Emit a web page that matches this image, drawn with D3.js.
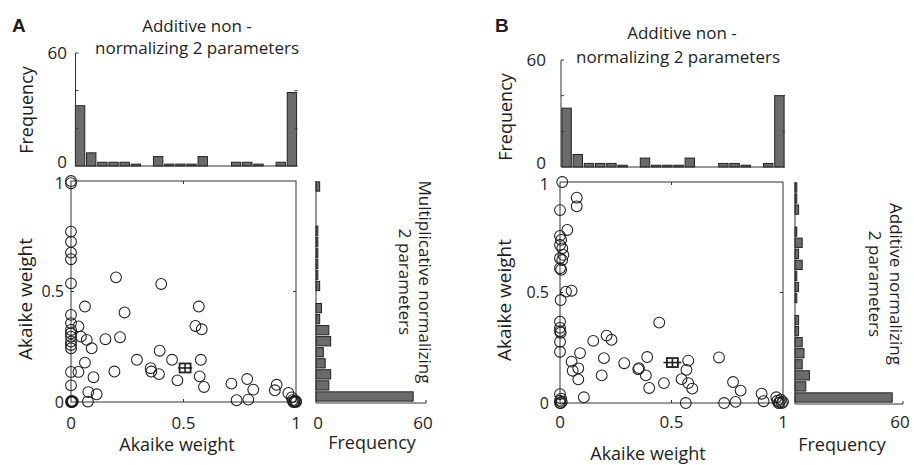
<!DOCTYPE html>
<html>
<head>
<meta charset="utf-8">
<script src="https://cdn.jsdelivr.net/npm/d3@7"></script>
<style>
body{margin:0;background:#fff;}
text{font-family:"Open Sans",sans-serif;fill:#1e1e1e;}
</style>
</head>
<body>
<svg id="chart" width="914" height="465"></svg>
<script>
// histogram bin starts (width 0.05)
var binStart = [0,0.05,0.1,0.15,0.2,0.25,0.3,0.35,0.4,0.45,0.5,0.55,0.6,0.65,0.7,0.75,0.8,0.85,0.9,0.95];

// panel A
var aTopCounts   = [32,7,2,2,2,1,0,5,1,1,1,5,0,0,2,2,1,0,2,39];
var aRightCounts = [53,7,8,5,4,8,7,2,3,0,2,1,1,1,1,1,0,0,0,2];
var aX = [0,0,0,0,0,0,0,0,0,0,0,0,0,0,0,0,0,0,0.004,0.008,0.002,0.006,
	0.033,0.062,0.044,0.07,0.092,0.033,0.062,0.1,0.077,0.114,0.075,
	0.153,0.2,0.218,0.238,0.193,0.293,0.354,0.357,0.391,0.394,0.401,0.449,0.473,
	0.568,0.553,0.581,0.577,0.572,0.591,0.713,0.783,0.81,0.736,0.788,
	0.914,0.906,0.966,0.981,0.988,0.995,1,0.985,0.992,1];
var aY = [1,0.99,0.771,0.725,0.676,0.646,0.537,0.394,0.357,0.326,0.311,0.296,0.273,0.258,0.243,0.136,0.075,0,0,0.003,0.005,0.001,
	0.342,0.432,0.296,0.281,0.243,0.136,0.178,0.112,0.045,0.035,0.002,
	0.284,0.564,0.293,0.405,0.138,0.191,0.153,0.138,0.126,0.232,0.534,0.191,0.098,
	0.432,0.344,0.329,0.191,0.116,0.068,0.083,0.104,0.056,0.008,0.011,
	0.078,0.053,0.041,0.021,0,0.005,0,0.008,0.002,0.004];
var aMean = [0.507, 0.154];
var aErr  = [0.032, 0.02];

// panel B
var bTopCounts   = [33,7,2,2,2,1,0,5,1,1,1,5,0,0,2,2,1,0,2,40];
var bRightCounts = [54,6,8,4,5,4,2,2,0,1,2,1,4,2,4,1,0,2,1,1];
var bX = [0.01,0,0,0.005,0,0.01,0.015,0,0.01,0,0.005,0.003,0,0,0,0.003,0,0,0,0.005,0,0.003,0.008,0,
	0.075,0.075,0.033,0.052,0.027,0.445,0.149,0.209,0.231,0.09,0.052,0.082,0.057,0.082,0.197,0.187,0.107,
	0.288,0.354,0.351,0.391,0.385,0.4,0.466,0.575,0.567,0.545,0.575,0.593,0.564,
	0.713,0.776,0.81,0.736,0.787,0.904,0.913,0.97,0.975,0.985,0.99,0.995,1,0.98];
var bY = [1,0.873,0.756,0.738,0.715,0.7,0.67,0.655,0.647,0.61,0.603,0.466,0.368,0.34,0.325,0.318,0.277,0.232,0.04,0.02,0.01,0,0.005,0,
	0.929,0.89,0.783,0.508,0.504,0.364,0.281,0.305,0.286,0.226,0.187,0.157,0.146,0.107,0.203,0.125,0.026,
	0.18,0.158,0.153,0.208,0.125,0.068,0.09,0.192,0.15,0.108,0.09,0.065,0,
	0.206,0.095,0.056,0,0.005,0.042,0.008,0.026,0.01,0.003,0.015,0,0.005,0];
var bMean = [0.504, 0.183];
var bErr  = [0.04, 0.02];

var svg = d3.select('#chart');
var lineCol = '#333';

function drawPanel(p){
	var g = svg.append('g');
	var x = d3.scaleLinear().domain([0, 1]).range([p.left, p.right]);
	var y = d3.scaleLinear().domain([0, 1]).range([p.bottom, p.top]);
	var hx = d3.scaleLinear().domain([0, 1]).range(p.topHistX);
	var hy = d3.scaleLinear().domain([0, 60]).range(p.topHistY);
	var rx = d3.scaleLinear().domain([0, 60]).range(p.rightHistX);
	var bw = 0.05;
	var tickFs = 16;

	// panel letter
	g.append('text').attr('x', p.letterX).attr('y', 32)
		.style('font-family', '"Liberation Sans",Arial,sans-serif')
		.attr('font-weight', 'bold').attr('font-size', 19).text(p.letter);

	// top titles
	g.append('text').attr('x', p.titleX[0]).attr('y', p.titleY[0]).attr('text-anchor', 'middle')
		.attr('font-size', 17).text('Additive non -');
	g.append('text').attr('x', p.titleX[1]).attr('y', p.titleY[1]).attr('text-anchor', 'middle')
		.attr('font-size', 17).text('normalizing 2 parameters');

	// ---- top histogram ----
	var top = g.append('g');
	top.selectAll('rect').data(p.topCounts).enter().append('rect')
		.attr('x', function(d, i){ return hx(binStart[i] + bw * 0.08); })
		.attr('width', hx(bw * 0.84) - hx(0))
		.attr('y', function(d){ return hy(d); })
		.attr('height', function(d){ return hy(0) - hy(d); })
		.attr('fill', '#6b6b6b').attr('stroke', '#222').attr('stroke-width', 1)
		.attr('display', function(d){ return d > 0 ? null : 'none'; });
	top.append('path')
		.attr('d', 'M' + [p.topHistAxisX, hy(60)] + 'V' + hy(0) + 'H' + hx(1))
		.attr('fill', 'none').attr('stroke', lineCol);
	[20, 40, 60].forEach(function(t){
		top.append('line').attr('x1', p.topHistAxisX).attr('x2', p.topHistAxisX + 3)
			.attr('y1', hy(t)).attr('y2', hy(t)).attr('stroke', lineCol);
	});
	[20, 40].forEach(function(t){
		top.append('line').attr('x1', hx(1)).attr('x2', hx(1) - 3)
			.attr('y1', hy(t)).attr('y2', hy(t)).attr('stroke', lineCol);
	});
	top.append('text').attr('x', p.topTickX).attr('y', hy(60)).attr('dy', '0.35em')
		.attr('text-anchor', 'end').attr('font-size', tickFs + 1).text('60');
	top.append('text').attr('x', p.topTickX).attr('y', hy(0) + 1.5)
		.attr('text-anchor', 'end').attr('font-size', tickFs + 1).text('0');
	top.append('text').attr('transform', 'translate(' + [p.topLabelX, p.topLabelY] + ') rotate(-90)')
		.attr('text-anchor', 'middle').attr('font-size', 18).text('Frequency');

	// ---- scatter ----
	var sc = g.append('g');
	sc.append('rect').attr('x', p.left).attr('y', p.top)
		.attr('width', p.right - p.left).attr('height', p.bottom - p.top)
		.attr('fill', 'none').attr('stroke', lineCol);
	var tk = 3;
	sc.append('path').attr('stroke', lineCol).attr('fill', 'none')
		.attr('d', 'M' + [x(0.5), p.bottom] + 'v' + (-tk) + 'M' + [x(0.5), p.top] + 'v' + tk +
			'M' + [p.left, y(0.5)] + 'h' + tk + 'M' + [p.right, y(0.5)] + 'h' + (-tk));

	var pts = p.xs.map(function(v, i){ return [v, p.ys[i]]; });
	sc.selectAll('circle').data(pts).enter().append('circle')
		.attr('cx', function(d){ return x(d[0]); })
		.attr('cy', function(d){ return y(d[1]); })
		.attr('r', 5.4)
		.attr('fill', 'none').attr('stroke', '#1e1e1e').attr('stroke-width', 1.05);

	// mean marker with error bars
	var mx = x(p.mean[0]), my = y(p.mean[1]);
	var m = sc.append('g').attr('stroke', '#222').attr('fill', 'none');
	m.append('line').attr('x1', x(p.mean[0] - p.err[0])).attr('x2', x(p.mean[0] + p.err[0]))
		.attr('y1', my).attr('y2', my).attr('stroke-width', 1.6);
	m.append('line').attr('x1', mx).attr('x2', mx)
		.attr('y1', y(p.mean[1] - p.err[1])).attr('y2', y(p.mean[1] + p.err[1])).attr('stroke-width', 1.6);
	m.append('rect').attr('x', mx - 5.5).attr('y', my - 4.5).attr('width', 11).attr('height', 9)
		.attr('stroke-width', 1.8);

	sc.selectAll('.xt').data([0, 0.5, 1]).enter().append('text').attr('class', 'xt')
		.attr('x', function(d){ return x(d); }).attr('y', p.xTickY)
		.attr('text-anchor', 'middle').attr('font-size', tickFs + 1)
		.text(function(d){ return d; });
	sc.selectAll('.yt').data([0, 0.5, 1]).enter().append('text').attr('class', 'yt')
		.attr('x', p.left - p.yTickGap).attr('y', function(d){ return y(d); })
		.attr('dy', function(d){ return d === 1 ? '0.5em' : '0.35em'; })
		.attr('text-anchor', 'end').attr('font-size', tickFs)
		.text(function(d){ return d; });
	sc.append('text').attr('x', p.xLabelX).attr('y', p.xLabelY).attr('text-anchor', 'middle')
		.attr('font-size', 18).text('Akaike weight');
	sc.append('text').attr('transform', 'translate(' + [p.yLabelX, p.yLabelY] + ') rotate(-90)')
		.attr('text-anchor', 'middle').attr('font-size', 19).text('Akaike weight');

	// ---- right histogram ----
	var rh = g.append('g');
	rh.selectAll('rect').data(p.rightCounts).enter().append('rect')
		.attr('x', rx(0))
		.attr('width', function(d){ return rx(d) - rx(0); })
		.attr('y', function(d, i){ return y(binStart[i] + bw * 0.92); })
		.attr('height', y(0) - y(bw * 0.84))
		.attr('fill', '#6b6b6b').attr('stroke', '#222').attr('stroke-width', 1)
		.attr('display', function(d){ return d > 0 ? null : 'none'; });
	rh.append('path')
		.attr('d', 'M' + [rx(0), y(1)] + 'V' + (y(0) + 1) + 'H' + rx(60) + 'v-3')
		.attr('fill', 'none').attr('stroke', lineCol);
	p.rightTicks.forEach(function(t){
		rh.append('text').attr('x', rx(t) + (t === 0 ? 2 : -3)).attr('y', p.xTickY)
			.attr('text-anchor', 'middle').attr('font-size', tickFs + 1).text(t);
	});
	rh.append('text').attr('x', p.freqX).attr('y', p.freqY).attr('text-anchor', 'middle')
		.attr('font-size', 18).text('Frequency');
	p.rightTitle.forEach(function(s, i){
		rh.append('text').attr('transform', 'translate(' + [p.rightTitleX[i], p.rightTitleY] + ') rotate(90)')
			.attr('dy', '0.35em').attr('text-anchor', 'middle').attr('font-size', 17).text(s);
	});
}

drawPanel({
	letter: 'A', letterX: 12,
	titleX: [197, 197], titleY: [32, 54],
	left: 71, right: 296, top: 181, bottom: 402,
	topHistX: [74.5, 297.5], topHistY: [166, 53], topHistAxisX: 75.5,
	topTickX: 67, topLabelX: 33, topLabelY: 110,
	topCounts: aTopCounts, rightCounts: aRightCounts,
	xs: aX, ys: aY, mean: aMean, err: aErr,
	xTickY: 429, yTickGap: 7,
	xLabelX: 177, xLabelY: 451, yLabelX: 32, yLabelY: 299,
	rightHistX: [316, 426], rightTicks: [0, 60],
	freqX: 372, freqY: 449,
	rightTitle: ['Multiplicative normalizing', '2 parameters'], rightTitleX: [425, 405], rightTitleY: 282
});

drawPanel({
	letter: 'B', letterX: 495,
	titleX: [682, 678], titleY: [39, 63],
	left: 560, right: 783, top: 182, bottom: 403,
	topHistX: [561, 785], topHistY: [167, 60], topHistAxisX: 561,
	topTickX: 546, topLabelX: 512, topLabelY: 117,
	topCounts: bTopCounts, rightCounts: bRightCounts,
	xs: bX, ys: bY, mean: bMean, err: bErr,
	xTickY: 428, yTickGap: 11,
	xLabelX: 648, xLabelY: 460, yLabelX: 511, yLabelY: 300,
	rightHistX: [795, 903], rightTicks: [60],
	freqX: 842, freqY: 451,
	rightTitle: ['Additive normalizing', '2 parameters'], rightTitleX: [896, 875], rightTitleY: 284
});
</script>
</body>
</html>
